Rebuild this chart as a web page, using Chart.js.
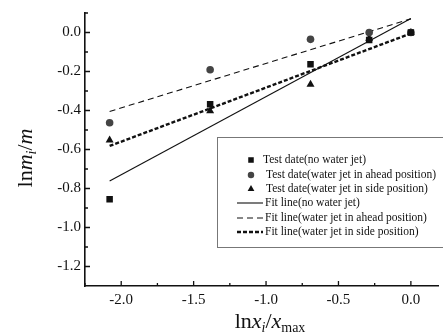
<!DOCTYPE html>
<html>
<head>
<meta charset="utf-8">
<script src="https://cdn.jsdelivr.net/npm/chart.js@4.4.1/dist/chart.umd.min.js"></script>
<style>
  html, body { margin: 0; padding: 0; background: #fff; }
  #wrap { width: 443px; height: 336px; }
</style>
</head>
<body>
<div id="wrap"><canvas id="c" width="443" height="336"></canvas></div>
<script>
// ln(xi/xmax) positions of the tests
const xVals = [-2.08, -1.386, -0.693, -0.288, 0];
const noJet = [-0.855, -0.368, -0.163, -0.039, 0];
const aheadJet = [-0.463, -0.191, -0.035, 0.0, 0];
const sideJet = [-0.552, -0.402, -0.266, -0.03, 0];

// fitted lines, end points
const fitX = [-2.08, 0];
const fitNoJet = [-0.762, 0.072];
const fitAhead = [-0.405, 0.07];
const fitSide = [-0.582, -0.005];

const xTicks = [-2.0, -1.5, -1.0, -0.5, 0.0];
const xMinor = [-2.25, -1.75, -1.25, -0.75, -0.25];
const yTicks = [0.0, -0.2, -0.4, -0.6, -0.8, -1.0, -1.2];
const yMinor = [0.1, -0.1, -0.3, -0.5, -0.7, -0.9, -1.1];

const labels = [
  "Test date(no water jet)",
  "Test date(water jet in ahead position)",
  "Test date(water jet in side position)",
  "Fit line(no water jet)",
  "Fit line(water jet in ahead position)",
  "Fit line(water jet in side position)"
];

const SERIF = "'Liberation Serif', 'Times New Roman', serif";
const INK = "#111";

function pts(xs, ys) {
  return xs.map((x, i) => ({ x: x, y: ys[i] }));
}

function scatterSet(label, data, style, color, r) {
  return {
    type: "scatter", label: label, data: data,
    pointStyle: style, pointRadius: r, pointHoverRadius: r,
    backgroundColor: color, borderColor: color, borderWidth: 0
  };
}

function lineSet(label, data, width, dash) {
  return {
    type: "line", label: label, data: data,
    borderColor: INK, borderWidth: width, borderDash: dash,
    pointRadius: 0, fill: false, tension: 0
  };
}

// inward ticks, major and minor
const tickMarks = {
  id: "tickMarks",
  afterDraw(chart) {
    const ctx = chart.ctx, a = chart.chartArea;
    const xs = chart.scales.x, ys = chart.scales.y;
    ctx.save();
    ctx.strokeStyle = INK;
    ctx.lineWidth = 1.3;
    ctx.beginPath();
    xTicks.forEach(v => { let p = xs.getPixelForValue(v); ctx.moveTo(p, a.bottom); ctx.lineTo(p, a.bottom - 5); });
    xMinor.forEach(v => { let p = xs.getPixelForValue(v); ctx.moveTo(p, a.bottom); ctx.lineTo(p, a.bottom - 3); });
    yTicks.forEach(v => { let p = ys.getPixelForValue(v); ctx.moveTo(a.left, p); ctx.lineTo(a.left + 5, p); });
    yMinor.forEach(v => { let p = ys.getPixelForValue(v); ctx.moveTo(a.left, p); ctx.lineTo(a.left + 3, p); });
    ctx.stroke();
    ctx.restore();
  }
};

// draws a run of [text, italic, sub] pieces centred at 0,0
function drawRich(ctx, parts, size) {
  const subSize = Math.round(size * 0.62);
  let w = 0;
  parts.forEach(p => {
    ctx.font = (p[1] ? "italic " : "") + (p[2] ? subSize : size) + "px " + SERIF;
    p.w = ctx.measureText(p[0]).width;
    w += p.w;
  });
  let x = -w / 2;
  ctx.textBaseline = "alphabetic";
  ctx.textAlign = "left";
  parts.forEach(p => {
    ctx.font = (p[1] ? "italic " : "") + (p[2] ? subSize : size) + "px " + SERIF;
    ctx.fillText(p[0], x, p[2] ? 4 : 0);
    x += p.w;
  });
}

const axisTitles = {
  id: "axisTitles",
  afterDraw(chart) {
    const ctx = chart.ctx;
    ctx.save();
    ctx.fillStyle = INK;
    ctx.translate(32, 158);
    ctx.rotate(-Math.PI / 2);
    drawRich(ctx, [["ln", false, false], ["m", true, false], ["i", true, true], ["/", false, false], ["m", true, false]], 22);
    ctx.restore();

    ctx.save();
    ctx.fillStyle = INK;
    ctx.translate(270, 328);
    drawRich(ctx, [["ln", false, false], ["x", true, false], ["i", true, true], ["/", false, false], ["x", true, false], ["max", false, true]], 22);
    ctx.restore();
  }
};

const boxLegend = {
  id: "boxLegend",
  afterDraw(chart) {
    const ctx = chart.ctx;
    const left = 217, top = 137.5, bottom = 247.5;
    const rows = [160, 175, 189, 203, 218, 232];
    ctx.save();
    ctx.strokeStyle = "#777";
    ctx.lineWidth = 1;
    ctx.strokeRect(left + 0.5, top, 260, bottom - top);
    ctx.font = "11.5px " + SERIF;
    ctx.textBaseline = "middle";
    ctx.textAlign = "left";
    chart.data.datasets.forEach((ds, i) => {
      const y = rows[i];
      if (ds.type === "scatter") {
        ctx.fillStyle = ds.backgroundColor;
        ctx.strokeStyle = ds.borderColor;
        Chart.helpers.drawPoint(ctx, { pointStyle: ds.pointStyle, radius: ds.pointRadius * 0.85, borderWidth: 0 }, 251, y);
        ctx.fillStyle = INK;
        ctx.fillText(ds.label, i === 0 ? 263 : 266, y);
      } else {
        ctx.strokeStyle = ds.borderColor;
        ctx.lineWidth = ds.borderWidth;
        ctx.setLineDash(ds.borderDash || []);
        ctx.beginPath();
        ctx.moveTo(237, y);
        ctx.lineTo(263, y);
        ctx.stroke();
        ctx.setLineDash([]);
        ctx.fillStyle = INK;
        ctx.fillText(ds.label, 265, y);
      }
    });
    ctx.restore();
  }
};

new Chart(document.getElementById("c"), {
  data: {
    datasets: [
      scatterSet(labels[0], pts(xVals, noJet), "rect", "#111", 4.6),
      scatterSet(labels[1], pts(xVals, aheadJet), "circle", "#444", 3.8),
      scatterSet(labels[2], pts(xVals, sideJet), "triangle", "#111", 4.6),
      lineSet(labels[3], pts(fitX, fitNoJet), 1.1, []),
      lineSet(labels[4], pts(fitX, fitAhead), 1.1, [6, 4]),
      lineSet(labels[5], pts(fitX, fitSide), 2.4, [4, 2])
    ]
  },
  options: {
    responsive: false,
    animation: false,
    events: [],
    layout: { padding: { top: 10, right: 0, left: 0, bottom: 0 } },
    plugins: { legend: { display: false }, tooltip: { enabled: false } },
    scales: {
      x: {
        type: "linear", min: -2.25, max: 0.19,
        border: { display: true, color: INK, width: 1.6 },
        grid: { display: false, drawTicks: false },
        afterBuildTicks: s => { s.ticks = xTicks.map(v => ({ value: v })); },
        afterFit: s => { s.height = 50; },
        ticks: {
          padding: 5, color: INK, font: { family: SERIF, size: 15 },
          callback: v => v.toFixed(1)
        }
      },
      y: {
        type: "linear", min: -1.3, max: 0.1,
        border: { display: true, color: INK, width: 1.6 },
        grid: { display: false, drawTicks: false },
        afterBuildTicks: s => { s.ticks = yTicks.map(v => ({ value: v })); },
        afterFit: s => { s.width = 85; },
        ticks: {
          padding: 4, color: INK, font: { family: SERIF, size: 15 },
          callback: v => v.toFixed(1)
        }
      }
    }
  },
  plugins: [tickMarks, axisTitles, boxLegend]
});
</script>
</body>
</html>
